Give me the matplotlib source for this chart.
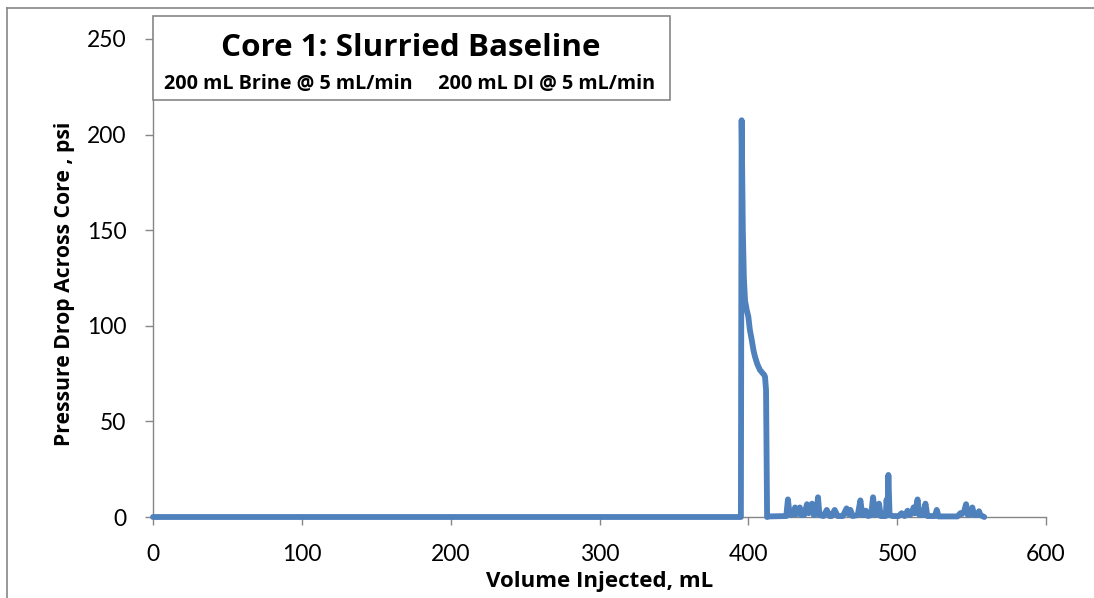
import matplotlib
matplotlib.use("Agg")
import matplotlib.pyplot as plt
from matplotlib.patches import Rectangle

# ---- data ----
volume_ml = [0, 395.0, 395.5, 396.3, 397.0, 397.8, 399.0, 400.0, 401.0, 402.3, 403.5,
             404.5, 406.0, 407.8, 408.8, 409.6, 410.5, 411.2, 411.9, 412.6,
             414.0, 425.5, 426.6, 427.7, 429.0, 430.5, 431.4, 432.5, 433.8, 434.6,
             435.6, 437.5, 439.4, 440.6, 441.8, 442.8, 444.0, 445.8, 446.8, 447.8,
             450.5, 452.7, 454.5, 456.0, 458.0, 460.0, 463.5, 466.0, 467.2, 468.6,
             470.0, 473.5, 475.3, 476.6, 478.0, 479.0, 480.5, 482.5, 483.8, 485.2,
             486.6, 487.8, 489.0, 492.3, 492.9, 493.5, 494.1, 494.9, 497.0, 501.0,
             503.0, 505.0, 507.0, 508.5, 510.0, 511.0, 512.0, 513.7, 515.0, 517.5,
             519.0, 520.3, 525.3, 526.6, 527.8, 540.5, 542.5, 543.5, 545.0, 546.3,
             547.5, 549.3, 550.5, 551.7, 554.0, 555.0, 556.0, 558.5]
pressure_psi = [0, 0, 207.5, 150, 125, 113, 108, 104.8, 98, 92.6, 87,
                83.8, 80, 76.9, 76, 75.2, 74.5, 73.4, 66.4, 0,
                0.3, 0.5, 9.2, 1.5, 1, 1.5, 5, 1.5, 2, 5,
                1, 1, 6.7, 2, 3, 7, 1, 2, 10.3, 1,
                0.5, 3.7, 0.5, 0.5, 3.7, 0.5, 0.5, 4.5, 1.5, 3.7,
                0.5, 1, 8.7, 1, 1, 3.3, 0.5, 1, 10.3, 1,
                1.5, 7, 0.5, 0.5, 9, 2, 22, 1, 0.5, 0.5,
                2, 0.5, 3.3, 1, 2, 5, 2, 9.2, 1, 1,
                7, 0.5, 0.5, 3.7, 0.3, 0.3, 2, 1.5, 3, 6.7,
                1, 1.5, 5, 1, 1, 3, 1, 0]

x_ticks = [0, 100, 200, 300, 400, 500, 600]
y_ticks = [0, 50, 100, 150, 200, 250]

title = "Core 1: Slurried Baseline"
subtitle = "200 mL Brine @ 5 mL/min     200 mL DI @ 5 mL/min"
x_label = "Volume Injected, mL"
y_label = "Pressure Drop Across Core , psi"

TICK_FONT = ["Lato", "DejaVu Sans"]
BOLD_FONT = ["Open Sans", "DejaVu Sans"]
plt.rcParams["font.family"] = TICK_FONT

W, H = 1094, 598
fig = plt.figure(figsize=(W / 100, H / 100), dpi=100)
fig.patch.set_facecolor("white")

ax = fig.add_axes([153 / W, 1 - 517 / H, (1046 - 153) / W, (517 - 39) / H])
ax.plot(volume_ml, pressure_psi, color="#4F81BD", lw=4.2,
        solid_joinstyle="round", solid_capstyle="round", clip_on=False, zorder=3)
ax.set_xlim(0, 600)
ax.set_ylim(0, 250)
ax.set_xticks(x_ticks)
ax.set_yticks(y_ticks)
for s in ["top", "right"]:
    ax.spines[s].set_visible(False)
for s in ["left", "bottom"]:
    ax.spines[s].set_color("#868686")
    ax.spines[s].set_linewidth(1.0)
ax.tick_params(axis="both", direction="out", length=5.5, width=1.0, color="#868686",
               labelsize=16.5, labelcolor="black")
ax.tick_params(axis="y", pad=13.5)
ax.tick_params(axis="x", pad=14)
ax.set_xlabel(x_label, fontsize=16, fontweight="bold", family=BOLD_FONT, va="center")
ax.set_ylabel(y_label, fontsize=15.2, fontweight="bold", family=BOLD_FONT, va="center")
ax.xaxis.set_label_coords(0.5, (517 - 582) / 478)
ax.yaxis.set_label_coords((65 - 153) / 893, (517 - 284) / 478)

# outer frame lines (top and left)
fig.add_artist(plt.Line2D([7 / W, 1.0], [1 - 8 / H, 1 - 8 / H], transform=fig.transFigure,
                          color="#868686", lw=1.2))
fig.add_artist(plt.Line2D([7 / W, 7 / W], [0, 1 - 8 / H], transform=fig.transFigure,
                          color="#868686", lw=1.2))

# title box
fig.add_artist(Rectangle((153 / W, 1 - 100 / H), (670 - 153) / W, (100 - 16) / H,
                         transform=fig.transFigure, facecolor="white",
                         edgecolor="#868686", lw=1.2, zorder=5))
fig.text(411 / W, 1 - 56 / H, title, ha="center", va="baseline", fontsize=22.6,
         fontweight="bold", family=BOLD_FONT, zorder=6)
fig.text(410 / W, 1 - 89 / H, subtitle, ha="center", va="baseline", fontsize=14.2,
         fontweight="bold", family=BOLD_FONT, zorder=6)

fig.savefig("out.png", dpi=100, facecolor="white")
